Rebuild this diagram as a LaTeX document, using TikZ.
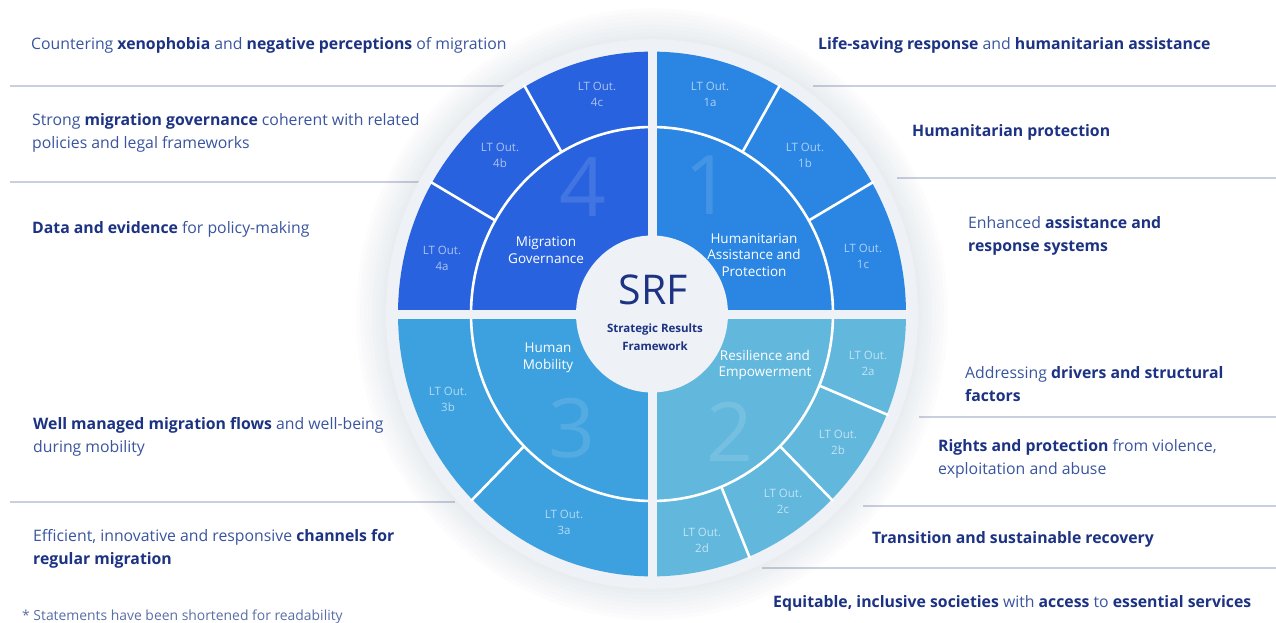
\documentclass[tikz,border=0pt]{standalone}
\usepackage{fontspec}
\setmainfont{Open Sans}
\definecolor{qfour}{HTML}{2862DE}
\definecolor{qone}{HTML}{2A86E2}
\definecolor{qthree}{HTML}{3DA0DF}
\definecolor{qtwo}{HTML}{62B7DD}
\definecolor{gapc}{HTML}{EEF1F5}
\definecolor{shadc}{HTML}{8A93A6}
\definecolor{navy}{HTML}{1C3282}
\definecolor{regc}{HTML}{3A55A0}
\definecolor{rulec}{HTML}{C9CFDC}
\definecolor{notec}{HTML}{5A6FA8}
\newcommand{\hb}[1]{\textbf{\color{navy}#1}}
\tikzset{
  stmt/.style={anchor=west, inner sep=0pt, align=left, text=regc,
    font=\fontsize{15.8}{23}\selectfont},
  ltout/.style={inner sep=0pt, align=center, text=white, text opacity=0.62,
    font=\fontsize{11.5}{16}\selectfont},
  catlbl/.style={inner sep=0pt, align=center, text=white,
    font=\fontsize{13.5}{16.5}\selectfont},
  bignum/.style={inner sep=0pt, text depth=0pt, text=white, text opacity=0.12,
    font=\fontsize{82}{82}\selectfont},
  sepline/.style={draw=rulec, line width=1.3pt},
  divider/.style={draw=white, line width=2.6pt},
  gapline/.style={draw=gapc, line width=9pt},
  shadowring/.style={fill=shadc, fill opacity=0.018}
}
\begin{document}
\begin{tikzpicture}[x=1pt,y=-1pt]
\useasboundingbox (0,0) rectangle (1276,623);
\fill[white] (0,0) rectangle (1276,623);
% separator lines
\draw[sepline] (10,86) -- (505,86);
\draw[sepline] (10,182) -- (420,182);
\draw[sepline] (10,502) -- (455,502);
\draw[sepline] (813,86) -- (1276,86);
\draw[sepline] (897,178) -- (1276,178);
\draw[sepline] (919,417) -- (1276,417);
\draw[sepline] (863,506) -- (1276,506);
\draw[sepline] (762,568) -- (1276,568);
% wheel
\begin{scope}[shift={(652,314)}, yscale=-1.033]
  \foreach \r in {296,292,288,284,280,276,272,269}
    \fill[shadowring] (0,0) circle[radius=\r];
  \fill[gapc] (0,0) circle[radius=266];
  \fill[qfour] (0,0) -- (180:254) arc[start angle=180, end angle=90, radius=254] -- cycle;
  \fill[qone] (0,0) -- (90:254) arc[start angle=90, end angle=0, radius=254] -- cycle;
  \fill[qtwo] (0,0) -- (0:254) arc[start angle=0, end angle=-90, radius=254] -- cycle;
  \fill[qthree] (0,0) -- (270:254) arc[start angle=270, end angle=180, radius=254] -- cycle;
  \draw[divider] (0,0) circle[radius=181];
  \foreach \a in {120,150,30,60,225,-22.5,-45,-67.5}
    \draw[divider] (\a:181) -- (\a:256);
  \draw[gapline] (-258,0) -- (258,0);
  \draw[gapline] (0,-258) -- (0,258);
  \fill[gapc] (0,0) circle[radius=76];
\end{scope}
% big numbers
\node[bignum] (n4) at (583,187) {4};
\node[bignum] (n1) at (708,185) {1};
\node[bignum] (n3) at (572,428) {3};
\node[bignum] (n2) at (730,432) {2};
% LT outcome labels
\node[ltout] (o4c) at (597,94) {LT Out.\\4c};
\node[ltout] (o4b) at (500,155) {LT Out.\\4b};
\node[ltout] (o4a) at (442,258) {LT Out.\\4a};
\node[ltout] (o1a) at (710,94) {LT Out.\\1a};
\node[ltout] (o1b) at (805,155) {LT Out.\\1b};
\node[ltout] (o1c) at (863,256) {LT Out.\\1c};
\node[ltout] (o2a) at (868,363) {LT Out.\\2a};
\node[ltout] (o2b) at (838,442) {LT Out.\\2b};
\node[ltout] (o2c) at (783,501) {LT Out.\\2c};
\node[ltout] (o2d) at (702,540) {LT Out.\\2d};
\node[ltout] (o3b) at (448,399) {LT Out.\\3b};
\node[ltout] (o3a) at (564,522) {LT Out.\\3a};
% category labels
\node[catlbl] (c4) at (546,250) {Migration\\Governance};
\node[catlbl] (c1) at (754,255) {Humanitarian\\Assistance and\\Protection};
\node[catlbl] (c3) at (548,358) {Human\\Mobility};
\node[catlbl] (c2) at (765,365) {Resilience and\\Empowerment};
% centre
\node[inner sep=0pt, text=navy, font=\fontsize{41}{41}\selectfont] (srf) at (653,290) {SRF};
\node[inner sep=0pt, text=navy, align=center, font=\bfseries\fontsize{11.5}{18}\selectfont] (srfsub) at (655,337) {Strategic Results\\Framework};
% statements left
\node[stmt] (l1) at (31,45.5) {Countering \hb{xenophobia} and \hb{negative perceptions} of migration};
\node[stmt] (l2) at (32,133) {Strong \hb{migration governance} coherent with related\\policies and legal frameworks};
\node[stmt] (l3) at (32,229.5) {\hb{Data and evidence} for policy-making};
\node[stmt] (l4) at (33,437) {\hb{Well managed migration flows} and well-being\\during mobility};
\node[stmt] (l5) at (33,549) {Efficient, innovative and responsive \hb{channels for}\\\hb{regular migration}};
\node[anchor=west, inner sep=0pt, text=notec, font=\fontsize{13.9}{15}\selectfont] (note) at (22,617) {* Statements have been shortened for readability};
% statements right
\node[stmt] (r1) at (818,45.5) {\hb{Life-saving response} and \hb{humanitarian assistance}};
\node[stmt] (r2) at (912,132.5) {\hb{Humanitarian protection}};
\node[stmt] (r3) at (968,235.5) {Enhanced \hb{assistance and}\\\hb{response systems}};
\node[stmt] (r4) at (965,384) {Addressing \hb{drivers and structural}\\\hb{factors}};
\node[stmt] (r5) at (938,459) {\hb{Rights and protection} from violence,\\exploitation and abuse};
\node[stmt] (r6) at (872,539.5) {\hb{Transition and sustainable recovery}};
\node[stmt] (r7) at (773,603.5) {\hb{Equitable, inclusive societies} with \hb{access} to \hb{essential services}};
\end{tikzpicture}
\end{document}
